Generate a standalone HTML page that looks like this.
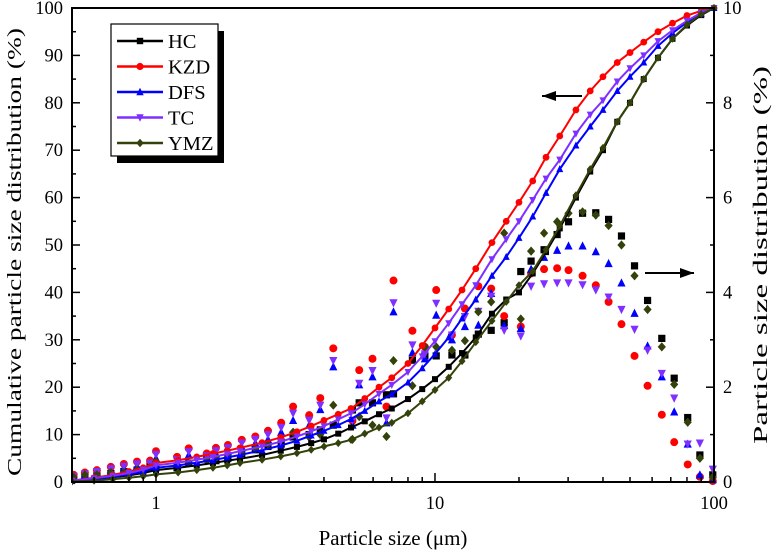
<!DOCTYPE html>
<html><head><meta charset="utf-8"><style>
html,body{margin:0;padding:0;background:#fff;}
svg{display:block;font-family:"Liberation Serif",serif;}
</style></head><body>
<svg id="chart" width="776" height="554" xmlns="http://www.w3.org/2000/svg"></svg>
<script>
const cumSizes=[0.5,0.6,0.7,0.8,0.9,1,1.2,1.4,1.6,1.8,2,2.4,2.8,3.2,3.6,4,4.5,5,5.6,6.3,7,8,9,10,11.2,12.5,14,16,18,20,22.4,25,28,32,36,40,45,50,56,63,71,80,90,100];
const cumHC=[0.2,0.6,1.0,1.4,1.9,2.5,3.0,3.5,4.0,4.5,4.9,5.7,6.6,7.4,8.2,9.0,10.2,11.5,12.8,14.3,15.5,17.5,19.6,21.7,24.3,27.2,30.5,35.5,38.5,40,44,48.5,53.5,60,65.5,70,76,80,85,89.5,93.5,96.3,98.5,100];
const cumKZD=[0.3,0.9,1.5,2.2,3.0,4.0,4.6,5.3,6.0,6.6,7.2,8.3,9.4,10.6,11.8,13.0,14.3,15.5,17.6,20.0,22.0,25.0,28.8,32.5,36.5,40.5,45,50.5,55,59,63.5,68.5,73,78.5,82.5,85.5,88.5,90.6,92.8,95,96.8,98.4,99.4,100];
const cumDFS=[0.3,0.7,1.1,1.6,2.2,3.0,3.5,4.1,4.6,5.2,5.7,6.7,7.7,8.7,9.8,10.8,12.0,13.3,15.0,17.0,18.5,21.0,24.0,27,30.5,34.5,38.5,43.5,47.5,51.5,56,61,66,71,75,78.5,82.5,85.5,88.5,92,94.7,97,98.8,100];
const cumTC=[0.3,0.8,1.3,1.9,2.6,3.5,4.1,4.7,5.3,5.9,6.5,7.5,8.5,9.6,10.7,11.8,13.2,14.5,16.4,18.6,20.5,23.2,26.5,29.7,33.5,37.5,41.5,47,51.2,55,59.5,64,68,73.5,77.5,80.5,84.5,87.3,90,93,95.3,97.3,99,100];
const cumYMZ=[0.1,0.3,0.6,0.9,1.2,1.6,2.0,2.5,3.0,3.5,4.0,4.7,5.4,6.1,6.8,7.5,8.2,8.9,10.2,11.5,12.5,14.5,17,19.4,22,25.5,29.5,34,38,41.5,44.5,49,54,60.5,66,70.5,76,80,85,89.5,93.5,96.5,98.7,100];
const distSizes=[0.507,0.556,0.614,0.689,0.767,0.855,0.952,1.0,1.19,1.31,1.52,1.64,1.81,2.03,2.27,2.52,2.81,3.1,3.54,3.88,4.32,5.06,5.35,5.97,6.7,7.1,8.3,9.2,10.1,11.5,12.8,14.3,15.9,17.7,20.3,22.1,24.6,27.4,30.1,33.8,37.7,41.9,46.6,51.9,57.8,65,72,80.5,89,99];
const distHC=[0.08,0.1,0.14,0.18,0.22,0.25,0.36,0.3,0.3,0.4,0.55,0.45,0.5,0.6,0.68,0.75,0.8,0.95,1.0,1.1,1.2,1.52,1.67,1.67,1.84,1.86,2.57,2.66,2.66,2.68,2.68,3.12,3.2,3.36,4.44,4.66,4.9,5.22,5.49,5.67,5.68,5.54,5.19,4.56,3.83,3.03,2.19,1.36,0.57,0.15];
const distKZD=[0.15,0.2,0.25,0.32,0.38,0.43,0.45,0.65,0.53,0.71,0.6,0.72,0.78,0.89,0.96,1.08,1.25,1.59,1.41,1.77,2.82,1.29,2.36,2.6,1.59,4.25,3.19,2.85,4.05,3.1,3.66,4.13,4.08,3.5,3.28,4.4,4.49,4.51,4.47,4.35,4.15,3.8,3.33,2.66,2.03,1.42,0.84,0.37,0.11,0.02];
const distDFS=[0.1,0.15,0.2,0.25,0.3,0.34,0.36,0.5,0.42,0.57,0.5,0.6,0.65,0.74,0.82,0.9,1.05,1.3,1.2,1.53,2.43,1.2,2.05,2.22,1.25,3.59,2.73,2.6,3.52,3.0,3.28,3.31,3.98,3.3,3.24,4.49,4.74,4.89,4.98,4.98,4.86,4.61,4.2,3.56,2.87,2.22,1.48,0.8,0.15,0.05];
const distTC=[0.12,0.17,0.22,0.28,0.33,0.38,0.4,0.58,0.47,0.64,0.55,0.66,0.72,0.82,0.9,1.0,1.15,1.45,1.3,1.62,2.56,1.3,2.08,2.35,1.35,3.78,2.89,2.7,3.77,3.1,3.49,3.6,3.92,3.2,3.08,4.13,4.18,4.2,4.2,4.16,4.05,3.9,3.64,3.22,2.78,2.29,1.77,0.8,0.82,0.27];
const distYMZ=[0.1,0.15,0.15,0.2,0.2,0.25,0.3,0.43,0.3,0.4,0.45,0.5,0.55,0.6,0.7,0.8,0.9,1.05,0.95,1.0,1.62,0.9,1.38,1.2,0.96,2.56,2.03,2.85,2.85,2.78,2.98,3.59,3.8,5.25,3.44,4.87,5.25,5.49,5.67,5.7,5.63,5.41,5.0,4.35,3.64,2.85,2.06,1.26,0.5,0.1];
const leftTicks=[0,10,20,30,40,50,60,70,80,90,100];
const rightTicks=[0,2,4,6,8,10];
const xMajor=[1,10,100];
const xMajorLabels=["1","10","100"];

const X0=72,X1=714,Y0=8,Y1=482,LMIN=Math.log10(0.5),LMAX=2;
const sx=v=>X0+(Math.log10(v)-LMIN)/(LMAX-LMIN)*(X1-X0);
const syL=v=>Y1-v/100*(Y1-Y0);
const syR=v=>Y1-v/10*(Y1-Y0);
const svg=document.getElementById('chart');
const NS='http://www.w3.org/2000/svg';
function mk(tag,at,parent){const e=document.createElementNS(NS,tag);for(const k in at)e.setAttribute(k,at[k]);(parent||svg).appendChild(e);return e;}

const series=[
 {n:'hc',label:'HC',c:'#000000',m:'sq',cum:cumHC,dist:distHC},
 {n:'kzd',label:'KZD',c:'#ff0000',m:'ci',cum:cumKZD,dist:distKZD},
 {n:'dfs',label:'DFS',c:'#0000ff',m:'tu',cum:cumDFS,dist:distDFS},
 {n:'tc',label:'TC',c:'#7f2fff',m:'td',cum:cumTC,dist:distTC},
 {n:'ymz',label:'YMZ',c:'#33420a',m:'di',cum:cumYMZ,dist:distYMZ}
];
function marker(g,t,x,y,c,s){
 s=s||3.6;
 if(t==='sq')return mk('rect',{x:x-s,y:y-s,width:2*s,height:2*s,fill:c},g);
 if(t==='ci')return mk('circle',{cx:x,cy:y,r:s+0.4,fill:c},g);
 if(t==='tu')return mk('polygon',{points:`${x},${y-s-1} ${x-s-0.5},${y+s} ${x+s+0.5},${y+s}`,fill:c},g);
 if(t==='td')return mk('polygon',{points:`${x},${y+s+1} ${x-s-0.5},${y-s} ${x+s+0.5},${y-s}`,fill:c},g);
 return mk('polygon',{points:`${x},${y-s-1} ${x+s+0.5},${y} ${x},${y+s+1} ${x-s-0.5},${y}`,fill:c},g);
}
const defs=mk('defs',{});const cp=mk('clipPath',{id:'pc'},defs);mk('rect',{x:X0,y:Y0-6,width:X1-X0+6,height:Y1-Y0+12},cp);

series.forEach(s=>{
 const g=mk('g',{'clip-path':'url(#pc)'});
 
 
 s.dist.forEach((v,i)=>marker(g,s.m,sx(distSizes[i]),syR(v),s.c));
});
series.forEach(s=>{
 const g=mk('g',{'clip-path':'url(#pc)'});
 
 
 const d=s.cum.map((v,i)=>(i?'L':'M')+sx(cumSizes[i]).toFixed(1)+','+syL(v).toFixed(1)).join('');
 mk('path',{d:d,fill:'none',stroke:s.c,'stroke-width':2},g);
 s.cum.forEach((v,i)=>marker(g,s.m,sx(cumSizes[i]),syL(v),s.c,3));
});

const ax=mk('g',{});


mk('rect',{x:X0,y:Y0,width:X1-X0,height:Y1-Y0,fill:'none',stroke:'#000','stroke-width':2},ax);
leftTicks.forEach(v=>{
 const y=syL(v);
 mk('line',{x1:X0,x2:X0+8,y1:y,y2:y,stroke:'#000','stroke-width':1.5},ax);
 if(v<100)mk('line',{x1:X0,x2:X0+4,y1:syL(v+5),y2:syL(v+5),stroke:'#000','stroke-width':1.5},ax);
 const t=mk('text',{x:X0-9,y:y+6,'text-anchor':'end','font-size':18.5},ax);t.textContent=v;
 
 
});
rightTicks.forEach(v=>{
 const y=syR(v);
 mk('line',{x1:X1,x2:X1-8,y1:y,y2:y,stroke:'#000','stroke-width':1.5},ax);
 if(v<10)mk('line',{x1:X1,x2:X1-4,y1:syR(v+1),y2:syR(v+1),stroke:'#000','stroke-width':1.5},ax);
 const t=mk('text',{x:X1+9,y:y+6,'font-size':18.5},ax);t.textContent=v;
 
 
});
for(let dec=0.1;dec<100;dec*=10){for(let k=1;k<10;k++){const v=dec*k;if(v<0.5||v>100)continue;const major=(k===1);
 mk('line',{x1:sx(v),x2:sx(v),y1:Y1,y2:Y1-(major?9:5),stroke:'#000','stroke-width':1.5},ax);}}
xMajor.forEach((v,i)=>{const t=mk('text',{x:sx(v),y:Y1+27,'text-anchor':'middle','font-size':18.5},ax);t.textContent=xMajorLabels[i];
 
 });

let t=mk('text',{x:393,y:545,'text-anchor':'middle','font-size':21});t.textContent='Particle size (\u03bcm)';

t=mk('text',{x:0,y:0,'text-anchor':'middle','font-size':20.5,textLength:448,lengthAdjust:'spacingAndGlyphs',transform:'translate(21,252) rotate(-90)'});t.textContent='Cumulative particle size distribution (%)';

t=mk('text',{x:0,y:0,'text-anchor':'middle','font-size':20.5,textLength:378,lengthAdjust:'spacingAndGlyphs',transform:'translate(767,255) rotate(-90)'});t.textContent='Particle size distribution (%)';


function arrow(x1,x2,y,name){const g=mk('g',{});
 mk('line',{x1:x1,x2:x2,y1:y,y2:y,stroke:'#000','stroke-width':2},g);
 const dir=Math.sign(x2-x1);mk('polygon',{points:`${x2},${y} ${x2-dir*14},${y-5} ${x2-dir*14},${y+5}`,fill:'#000'},g);}
arrow(582,542,96,'left-axis-arrow');
arrow(645,694,273,'right-axis-arrow');

const lg=mk('g',{});
mk('rect',{x:117,y:31,width:107,height:132,fill:'#000'},lg);
mk('rect',{x:111,y:24,width:107,height:132,fill:'#fff',stroke:'#000','stroke-width':1.2},lg);
series.forEach((s,i)=>{const y=41+i*25.5;const g=mk('g',{},lg);
 
 mk('line',{x1:117,x2:163,y1:y,y2:y,stroke:s.c,'stroke-width':2.5},g);marker(g,s.m,140,y,s.c,3.2);
 const tt=mk('text',{x:168,y:y+7,'font-size':20.5},g);tt.textContent=s.label;});
</script>
</body></html>
